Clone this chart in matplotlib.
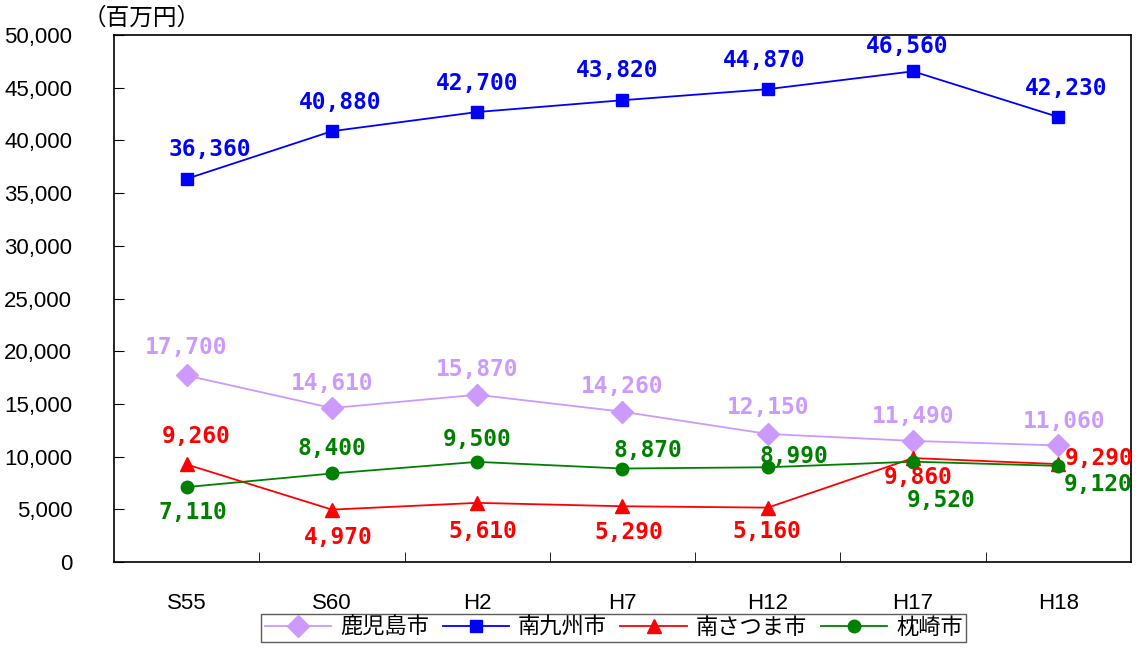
import matplotlib
matplotlib.use('Agg')
import matplotlib.pyplot as plt
import numpy as np

plt.rcParams['font.family'] = ['Liberation Sans', 'Noto Sans CJK JP', 'DejaVu Sans']

years = ['S55', 'S60', 'H2', 'H7', 'H12', 'H17', 'H18']
kagoshima = [17700, 14610, 15870, 14260, 12150, 11490, 11060]
minamikyushu = [36360, 40880, 42700, 43820, 44870, 46560, 42230]
minamisatsuma = [9260, 4970, 5610, 5290, 5160, 9860, 9290]
makurazaki = [7110, 8400, 9500, 8870, 8990, 9520, 9120]

# label offsets in pixels (dx, dy)
off_kago = [(0, 28), (0, 25), (0, 25), (0, 25), (0, 26), (0, 24), (6, 24)]
off_mkyu = [(23, 29), (8, 29), (0, 29), (-5, 30), (-4, 29), (-6, 25), (8, 28)]
off_msat = [(10, 28), (6, -28), (6, -29), (6, -26), (-1, -24), (5, -19), (41, 6)]
off_maku = [(6, -25), (0, 25), (0, 22), (25, 18), (26, 11), (28, -39), (40, -19)]

series = [
    ('鹿児島市', kagoshima, '#CC99FF', 'D', 11, off_kago),
    ('南九州市', minamikyushu, '#0000FF', 's', 9, off_mkyu),
    ('南さつま市', minamisatsuma, '#FF0000', '^', 10, off_msat),
    ('枕崎市', makurazaki, '#008000', 'o', 9, off_maku),
]

fig = plt.figure(figsize=(11.43, 6.5), dpi=100)
ax = fig.add_axes([0.0997, 0.1354, 0.8898, 0.8106])
x = np.arange(len(years))

for name, vals, color, mk, ms, offs in series:
    ax.plot(x, vals, color=color, marker=mk, markersize=ms, linewidth=1.3, label=name)
    for xi, v, (dx, dy) in zip(x, vals, offs):
        ax.annotate(f'{v:,}', (xi, v), xytext=(dx, dy), textcoords='offset pixels',
                    ha='center', va='center', color=color, fontsize=16.5,
                    fontweight='bold', family='DejaVu Sans Mono')

ax.set_xlim(-0.5, len(years) - 0.5)
ax.set_ylim(0, 50000)
ax.set_yticks(np.arange(0, 50001, 5000))
ax.set_yticklabels([f'{int(t):,}' for t in np.arange(0, 50001, 5000)], fontsize=16)
ax.set_xticks(x)
ax.set_xticklabels(years, fontsize=16)
ax.set_xticks(np.arange(0.5, len(years) - 0.5), minor=True)
ax.tick_params(axis='x', which='major', length=0, pad=22)
ax.tick_params(axis='x', which='minor', direction='in', length=7)
ax.tick_params(axis='y', direction='in', length=7, pad=30)
for s in ax.spines.values():
    s.set_linewidth(1.2)

fig.text(0.072, 0.972, '（百万円）', fontsize=17, va='center', ha='left',
         family=['Noto Sans CJK JP'])

leg = fig.legend(loc='upper center', bbox_to_anchor=(0.537, 0.055), ncol=4,
                 fontsize=16, frameon=True, fancybox=False, edgecolor='#333333',
                 handlelength=3, columnspacing=0.6, handletextpad=0.4,
                 borderpad=0.15, borderaxespad=0)
leg.get_frame().set_linewidth(1.0)

fig.savefig('out.png', dpi=100)
